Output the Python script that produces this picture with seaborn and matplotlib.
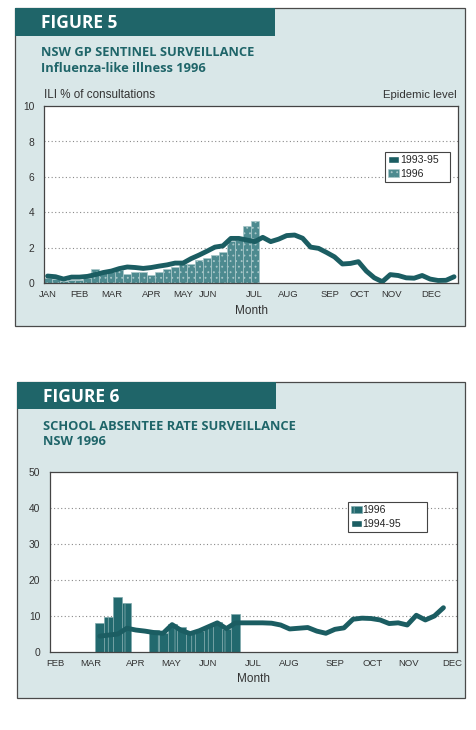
import numpy as np
import pandas as pd
import matplotlib
matplotlib.use('Agg')
import matplotlib.pyplot as plt
import matplotlib.patches as mpatches
import seaborn as sns

# Figure 5 - ILI % of consultations, weekly
weeks_9395 = list(range(1, 53))
ili_9395 = [0.42, 0.38, 0.25, 0.36, 0.36, 0.40, 0.50, 0.62, 0.70, 0.84,
            0.93, 0.90, 0.85, 0.90, 0.98, 1.05, 1.15, 1.15, 1.40, 1.60,
            1.82, 2.05, 2.12, 2.54, 2.54, 2.45, 2.36, 2.60, 2.36, 2.50,
            2.70, 2.73, 2.55, 2.05, 1.98, 1.75, 1.50, 1.10, 1.13, 1.23,
            0.70, 0.32, 0.10, 0.50, 0.45, 0.32, 0.30, 0.45, 0.25, 0.17,
            0.18, 0.38]
weeks_96 = list(range(1, 28))
ili_96 = [0.29, 0.23, 0.16, 0.20, 0.20, 0.33, 0.82, 0.63, 0.70, 0.76,
          0.52, 0.67, 0.67, 0.48, 0.67, 0.80, 0.95, 1.08, 1.08, 1.32,
          1.42, 1.60, 1.75, 2.40, 2.45, 3.26, 3.54]
months5 = ['JAN', 'FEB', 'MAR', 'APR', 'MAY', 'JUN', 'JUL', 'AUG', 'SEP', 'OCT', 'NOV', 'DEC']
month_pos5 = [1, 5, 9.1, 14.1, 18, 21.1, 27, 31.2, 36.4, 40.2, 44.2, 49.2]

# Figure 6 - school absentee rate, weekly (Feb - Dec)
weeks_9495 = list(range(6, 45))
absent_9495 = [4.4, 4.7, 5.0, 6.6, 6.1, 5.8, 5.4, 5.2, 7.6, 6.0,
               5.1, 5.9, 7.0, 8.1, 6.5, 8.1, 8.1, 8.1, 8.1, 8.0,
               7.5, 6.4, 6.6, 6.8, 5.8, 5.2, 6.3, 6.7, 9.1, 9.4,
               9.3, 8.9, 7.9, 8.1, 7.5, 10.2, 8.9, 10.0, 12.3]
weeks_96b = [6, 7, 8, 9, 12, 13, 14, 15, 16, 17, 18, 19, 20, 21]
absent_96 = [8.1, 9.7, 15.3, 13.6, 6.0, 5.4, 7.9, 6.9, 5.6, 5.7, 7.1, 8.3, 6.5, 10.6]
months6 = ['FEB', 'MAR', 'APR', 'MAY', 'JUN', 'JUL', 'AUG', 'SEP', 'OCT', 'NOV', 'DEC']
month_pos6 = [1.05, 5, 10, 13.9, 18, 23, 27, 32, 36.2, 40.1, 45]

W, H = 476, 730
PANEL = '#d9e7e8'
HEAD = '#1f6569'
LINE = '#1b5d62'
BAR5 = '#4d8a8f'
BAR6 = '#22696e'

sns.set_style('white')
plt.rcParams['font.family'] = ['Liberation Sans', 'DejaVu Sans']
plt.rcParams['hatch.linewidth'] = 0.6


def fx(x):
    return x / W


def fy(y):
    return 1 - y / H


def panel(fig, x0, y0, x1, y1, hx1, hy1, num, t1, t2):
    fig.patches.append(mpatches.Rectangle((fx(x0), fy(y1)), fx(x1 - x0), (y1 - y0) / H,
                                          transform=fig.transFigure, facecolor=PANEL,
                                          edgecolor='#4a4a4a', linewidth=0.9, zorder=-3))
    fig.patches.append(mpatches.Rectangle((fx(x0), fy(hy1)), fx(hx1 - x0), (hy1 - y0) / H,
                                          transform=fig.transFigure, facecolor=HEAD,
                                          edgecolor='none', zorder=-2))
    fig.text(fx(x0 + 26), fy((y0 + hy1) / 2 + 1), 'FIGURE %d' % num, color='white',
             fontsize=12.5, fontweight='bold', family=['Open Sans', 'DejaVu Sans'], va='center')
    fig.text(fx(x0 + 26), fy(y0 + 44), t1, color=HEAD, fontsize=9.3, fontweight='bold',
             family=['Open Sans', 'DejaVu Sans'], va='center')
    fig.text(fx(x0 + 26), fy(y0 + 60), t2, color=HEAD, fontsize=9.3, fontweight='bold',
             family=['Open Sans', 'DejaVu Sans'], va='center')


def style_axes(ax, ymax, step, xlim, pos, labels):
    ax.set_xlim(*xlim)
    ax.set_ylim(0, ymax)
    ax.set_yticks(np.arange(0, ymax + 1, step))
    ax.set_xticks(pos)
    ax.set_xticklabels(labels, fontsize=6.8, color='#333333')
    ax.tick_params(axis='y', labelsize=7.4, colors='#333333', length=0, pad=7)
    ax.tick_params(axis='x', length=0, pad=5)
    for v in np.arange(step, ymax, step):
        ax.axhline(v, color='#8a8a8a', linestyle=(0, (1, 2.2)), linewidth=0.8, zorder=0)
    for s in ax.spines.values():
        s.set_color('#444444')
        s.set_linewidth(0.9)
    ax.set_xlabel('Month', fontsize=8.5, color='#333333', labelpad=4)
    ax.set_ylabel('')
    ax.set_facecolor('white')


def add_legend(ax, handles, box):
    leg = ax.legend(handles=handles, loc='upper left', bbox_to_anchor=box, mode='expand',
                    fontsize=7.6, frameon=True, fancybox=False, edgecolor='#444444',
                    framealpha=1, handlelength=1.0, handleheight=0.7, handletextpad=0.1,
                    borderpad=0.3, labelspacing=0.35, borderaxespad=0)
    leg.get_frame().set_linewidth(0.8)
    return leg


fig = plt.figure(figsize=(W / 100, H / 100), dpi=100)
fig.patch.set_facecolor('white')

panel(fig, 15, 8, 465, 326, 275, 36, 5, 'NSW GP SENTINEL SURVEILLANCE', 'Influenza-like illness 1996')
panel(fig, 17, 382, 465, 698, 276, 409, 6, 'SCHOOL ABSENTEE RATE SURVEILLANCE', 'NSW 1996')

# Figure 5
df5b = pd.DataFrame({'week': weeks_96, 'ili': ili_96})
df5l = pd.DataFrame({'week': weeks_9395, 'ili': ili_9395})
ax5 = fig.add_axes([fx(44), fy(283.5), fx(414), 177.5 / H])
sns.barplot(data=df5b, x='week', y='ili', native_scale=True, width=1, errorbar=None,
            color=BAR5, edgecolor='#a9c7c9', linewidth=0.5, hatch='...', ax=ax5, zorder=2)
for p in ax5.patches:
    p.set_facecolor(BAR5)
sns.lineplot(data=df5l, x='week', y='ili', color=LINE, linewidth=3.5, ax=ax5, zorder=3)
style_axes(ax5, 10, 2, (0.55, 52.5), month_pos5, months5)
fig.text(fx(44), fy(95), 'ILI % of consultations', fontsize=8.4, color='#333333', va='center')
fig.text(fx(457), fy(95), 'Epidemic level', fontsize=8.2, color='#333333', va='center', ha='right')
h5 = [mpatches.Patch(facecolor=LINE, label='1993-95'),
      mpatches.Patch(facecolor=BAR5, edgecolor='#a9c7c9', hatch='...', linewidth=0.4, label='1996')]
add_legend(ax5, h5, (0.824, 0.566, 0.157, 0.175))

# Figure 6
df6b = pd.DataFrame({'week': weeks_96b, 'rate': absent_96})
df6l = pd.DataFrame({'week': weeks_9495, 'rate': absent_9495})
ax6 = fig.add_axes([fx(50), fy(652), fx(407), 180 / H])
sns.barplot(data=df6b, x='week', y='rate', native_scale=True, width=1, errorbar=None,
            color=BAR6, edgecolor='#7fa9ac', linewidth=0.5, hatch='|', ax=ax6, zorder=2)
for p in ax6.patches:
    p.set_facecolor(BAR6)
sns.lineplot(data=df6l, x='week', y='rate', color=LINE, linewidth=3.5, ax=ax6, zorder=3)
style_axes(ax6, 50, 10, (0.5, 45.5), month_pos6, months6)
h6 = [mpatches.Patch(facecolor=BAR6, edgecolor='#7fa9ac', hatch='||', linewidth=0.4, label='1996'),
      mpatches.Patch(facecolor=LINE, label='1994-95')]
add_legend(ax6, h6, (0.732, 0.656, 0.194, 0.177))

fig.savefig('out.png', dpi=100, facecolor='white')
